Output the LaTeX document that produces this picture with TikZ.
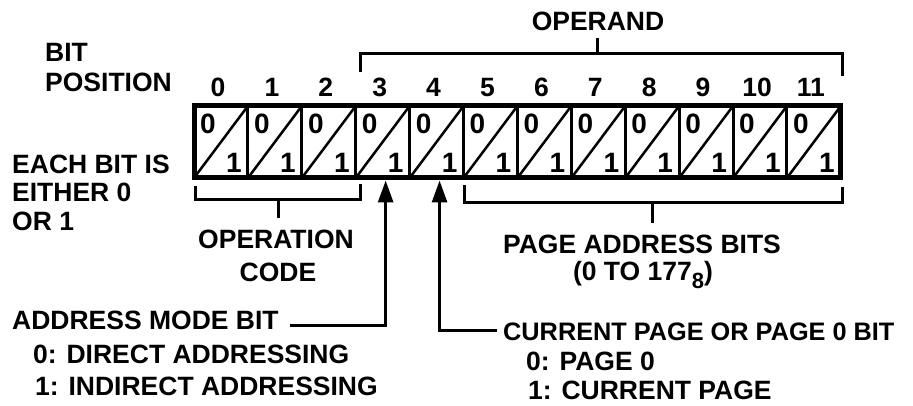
\documentclass[tikz,border=0pt]{standalone}
\usepackage{fontspec}
\setmainfont{Liberation Sans}
\usetikzlibrary{arrows.meta}
\begin{document}
\begin{tikzpicture}[x=1pt,y=-1pt,
  lbl/.style={font=\fontsize{26.5}{27}\selectfont\bfseries, inner sep=0pt, text height=19pt, text depth=0pt},
  cellbox/.style={draw, line width=3pt, minimum width=53.9pt, minimum height=72pt, inner sep=0pt, outer sep=0pt},
  dig/.style={font=\fontsize{28}{28}\selectfont\bfseries, inner sep=0pt},
  brk/.style={line width=3pt},
  arr/.style={line width=3pt, -{Triangle[width=15pt,length=22pt]}}]
\useasboundingbox (0,0) rectangle (913,406);

% register cells
\foreach \i in {0,...,11} {
  \node[cellbox, anchor=north west] (c\i) at ({194+53.9*\i},106) {};
  \draw[line width=2.5pt] (c\i.south west) -- (c\i.north east);
  \node[dig] (z\i) at ({194+53.9*\i+14},124) {0};
  \node[dig] (o\i) at ({194+53.9*\i+40},163) {1};
  \node[lbl] (b\i) at ({194+53.9*\i+24},87) {\i};
}
\draw[line width=5pt] (c0.north west) rectangle (c11.south east);

% labels
\node[lbl, anchor=west] (bit) at (45,52) {BIT};
\node[lbl, anchor=west] (pos) at (45,82) {POSITION};
\node[lbl] (operand) at (598,21) {OPERAND};
\node[lbl, anchor=west] (each) at (12,164) {EACH BIT IS};
\node[lbl, anchor=west] (either) at (12,192) {EITHER 0};
\node[lbl, anchor=west] (or1) at (12,221) {OR 1};
\node[lbl] (opn) at (276,239) {OPERATION};
\node[lbl] (code) at (278,272) {CODE};
\node[lbl] (pab) at (642,244) {PAGE ADDRESS BITS};
\node[lbl] (range) at (643,271) {(0 TO 177\raisebox{-8pt}{\fontsize{22}{22}\selectfont 8})};
\node[lbl, anchor=west] (amb) at (12,320) {ADDRESS MODE BIT};
\node[lbl, anchor=west] (amb0) at (33,354) {0: DIRECT ADDRESSING};
\node[lbl, anchor=west] (amb1) at (35,386) {1: INDIRECT ADDRESSING};
\node[lbl, anchor=west, font=\fontsize{25.3}{26}\selectfont\bfseries] (cpb) at (503,331) {CURRENT PAGE OR PAGE 0 BIT};
\node[lbl, anchor=west] (cp0) at (526,361) {0: PAGE 0};
\node[lbl, anchor=west] (cp1) at (528,390) {1: CURRENT PAGE};

% operand bracket
\coordinate (obL) at (360,72);
\coordinate (obR) at (842,76);
\coordinate (obC) at (842,54);
\coordinate (obM) at (597,54);
\coordinate (obT) at (597,38);
\draw[brk] (obL) |- (obC) -- (obR);
\draw[brk] (obM) -- (obT);

% operation code bracket
\coordinate (cbL) at (195,186);
\coordinate (cbB) at (360,200);
\coordinate (cbR) at (360,184);
\coordinate (cbM) at (278,200);
\coordinate (cbT) at (278,218);
\draw[brk] (cbL) |- (cbB) -- (cbR);
\draw[brk] (cbM) -- (cbT);

% page address bracket
\coordinate (pbL) at (464,185);
\coordinate (pbB) at (842,203);
\coordinate (pbR) at (842,187);
\coordinate (pbM) at (652,203);
\coordinate (pbT) at (652,223);
\draw[brk] (pbL) |- (pbB) -- (pbR);
\draw[brk] (pbM) -- (pbT);

% arrows
\coordinate (a3) at (290,325);
\coordinate (a4) at (497,330);
\draw[arr, shorten >=2.5pt] (a3) -| ([xshift=3pt]c3.south);
\draw[arr, shorten >=2.5pt] (a4) -| ([xshift=3pt]c4.south);
\end{tikzpicture}
\end{document}
